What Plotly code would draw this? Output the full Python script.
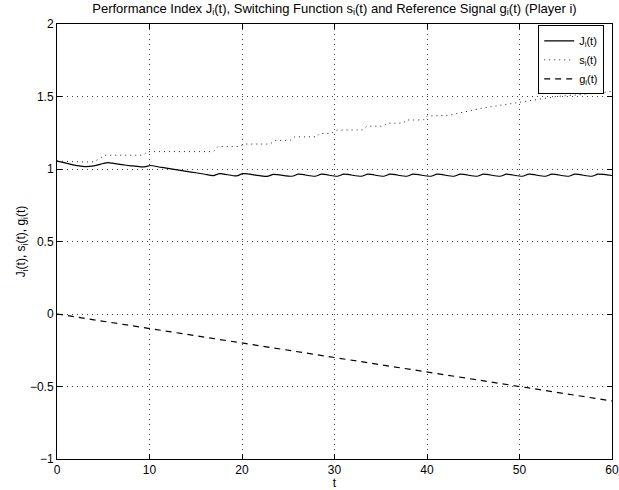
import plotly.graph_objects as go

# J_i(t): performance index
J_t = [0, 1, 2, 3, 4, 5, 5.5, 6, 7, 8, 9, 9.6, 10.1, 11, 12, 13, 14, 15, 16, 16.9,
       17.6, 19.4, 20.1, 22.7, 23.4, 25.4, 26.1, 27.9, 28.6, 30.3, 31.0, 32.9, 33.6,
       35.3, 36.0, 37.8, 38.5, 40.4, 41.1, 42.9, 43.6, 45.4, 46.1, 47.9, 48.6, 50.3,
       51.0, 52.8, 53.5, 55.3, 56.0, 57.8, 58.5, 60]
J_v = [1.055, 1.04, 1.025, 1.017, 1.022, 1.038, 1.044, 1.04, 1.03, 1.022, 1.015, 1.016,
       1.024, 1.014, 1.004, 0.994, 0.984, 0.974, 0.964, 0.955,
       0.968, 0.952, 0.968, 0.949, 0.963, 0.950, 0.964, 0.950, 0.964, 0.950, 0.964,
       0.950, 0.964, 0.950, 0.964, 0.950, 0.964, 0.950, 0.964, 0.950, 0.964, 0.950,
       0.964, 0.950, 0.964, 0.950, 0.964, 0.950, 0.964, 0.950, 0.964, 0.950, 0.964, 0.955]

# s_i(t): switching function
s_t = [0, 1, 2, 3, 4, 4.6, 5.2, 9.3, 9.8, 16.9, 17.4, 19.6, 20.3, 23.0, 23.6, 25.2, 25.7,
       28.1, 28.4, 29.6, 30.3, 33.0, 33.5, 35.2, 35.7, 37.4, 37.8, 39.6, 40.0, 42.3,
       44, 46, 48, 50, 52, 54, 56, 58, 60]
s_v = [1.055, 1.052, 1.05, 1.048, 1.05, 1.07, 1.095, 1.095, 1.12, 1.12, 1.155, 1.155,
       1.172, 1.172, 1.197, 1.197, 1.222, 1.222, 1.245, 1.245, 1.268, 1.27, 1.295,
       1.295, 1.316, 1.316, 1.338, 1.338, 1.366, 1.37,
       1.395, 1.42, 1.44, 1.46, 1.482, 1.5, 1.51, 1.525, 1.535]

# g_i(t): reference signal
g_t = [0, 60]
g_v = [0, -0.6]

x_ticks = [0, 10, 20, 30, 40, 50, 60]
y_ticks = [-1, -0.5, 0, 0.5, 1, 1.5, 2]
y_labels = ["\u22121", "\u22120.5", "0", "0.5", "1", "1.5", "2"]

FONT = "Liberation Sans, Arial, Helvetica"

fig = go.Figure()
fig.add_trace(go.Scatter(x=J_t, y=J_v, mode="lines", name="J<sub>i</sub>(t)",
                         line=dict(color="black", width=1.2, dash="solid", shape="spline", smoothing=0.6)))
fig.add_trace(go.Scatter(x=s_t, y=s_v, mode="lines", name="s<sub>i</sub>(t)",
                         line=dict(color="#222", width=1, dash="1px,4px")))
fig.add_trace(go.Scatter(x=g_t, y=g_v, mode="lines", name="g<sub>i</sub>(t)",
                         line=dict(color="black", width=1.2, dash="6px,5px")))

axis_common = dict(showline=True, linecolor="black", linewidth=1, mirror="ticks",
                   ticks="inside", ticklen=5, tickcolor="black", automargin=False,
                   showgrid=True, gridcolor="#444", gridwidth=1, griddash="1px,4px",
                   zeroline=False, tickfont=dict(family=FONT, size=12, color="black"))

fig.update_layout(
    width=619, height=490,
    margin=dict(l=57, r=7, t=24, b=31),
    paper_bgcolor="white", plot_bgcolor="white",
    font=dict(family=FONT, size=12, color="black"),
    title=dict(text="Performance Index J<sub>i</sub>(t), Switching Function s<sub>i</sub>(t) and Reference Signal g<sub>i</sub>(t) (Player i)",
               xref="paper", x=0.5, xanchor="center", yref="container", y=0.993, yanchor="top",
               font=dict(family=FONT, size=13)),
    xaxis=dict(range=[0, 60], tickvals=x_ticks, ticktext=[str(v) for v in x_ticks],
               title=dict(text="t", standoff=0, font=dict(size=12)), **axis_common),
    yaxis=dict(range=[-1, 2], tickvals=y_ticks, ticktext=y_labels,
               title=dict(text="J<sub>i</sub>(t), s<sub>i</sub>(t), g<sub>i</sub>(t)", standoff=1, font=dict(size=12)),
               **axis_common),
    showlegend=True,
    legend=dict(x=0.986, y=0.997, xanchor="right", yanchor="top",
                bgcolor="white", bordercolor="black", borderwidth=1,
                font=dict(family=FONT, size=11), tracegroupgap=0, itemwidth=30),
)

fig.write_html("out.html", config={"displayModeBar": False},
               post_script="document.body.style.margin='0';document.body.style.overflow='hidden';")
